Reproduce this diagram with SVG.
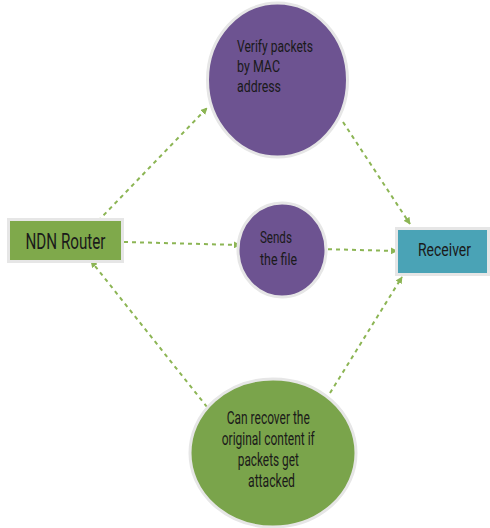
<svg xmlns="http://www.w3.org/2000/svg" width="490" height="528" viewBox="0 0 490 528">
<defs>
<marker id="arr" viewBox="0 0 10 10" refX="9" refY="5" markerWidth="7" markerHeight="7" orient="auto" markerUnits="userSpaceOnUse">
<path d="M0,0 L10,5 L0,10 z" fill="#8CB554"/>
</marker>
<style>
.edge{stroke:#8CB554;stroke-width:2;stroke-dasharray:4 4;fill:none;marker-end:url(#arr)}
.t{font-family:Roboto,"Liberation Sans",sans-serif;fill:#1a1a1a}
.ring{stroke:#E6E6E6;stroke-width:3}
</style>
</defs>
<rect width="490" height="528" fill="#ffffff"/>
<g id="connectors">
<line class="edge" x1="98" y1="221" x2="207" y2="108"/>
<line class="edge" x1="343" y1="122" x2="410" y2="224"/>
<line class="edge" x1="124" y1="242" x2="240" y2="245"/>
<line class="edge" x1="320" y1="249" x2="397" y2="251"/>
<line class="edge" x1="207" y1="407" x2="91" y2="261"/>
<line class="edge" x1="330" y1="393" x2="402" y2="277"/>
</g>
<g id="ndn-router">
<rect class="ring" x="8.5" y="219.5" width="114" height="42" fill="#7FA94B"/>
<text class="t" x="65.5" y="249" font-size="22" text-anchor="middle" textLength="80" lengthAdjust="spacingAndGlyphs">NDN Router</text>
</g>
<g id="receiver">
<rect class="ring" x="396.5" y="228.5" width="92" height="46" fill="#4AA3B6"/>
<text class="t" x="444.5" y="256" font-size="18" text-anchor="middle" textLength="53" lengthAdjust="spacingAndGlyphs">Receiver</text>
</g>
<g id="verify">
<ellipse class="ring" cx="277.5" cy="80" rx="70" ry="77" fill="#6D5391"/>
<text class="t" font-size="17">
<tspan x="237" y="52" textLength="76" lengthAdjust="spacingAndGlyphs">Verify packets</tspan>
<tspan x="237" y="72" textLength="43" lengthAdjust="spacingAndGlyphs">by MAC</tspan>
<tspan x="237" y="92" textLength="44" lengthAdjust="spacingAndGlyphs">address</tspan>
</text>
</g>
<g id="sends">
<ellipse class="ring" cx="282" cy="250" rx="44" ry="47" fill="#6D5391"/>
<text class="t" font-size="17" text-anchor="middle">
<tspan x="278" y="243" textLength="32" lengthAdjust="spacingAndGlyphs">Sends</tspan>
<tspan x="278.5" y="265" textLength="37" lengthAdjust="spacingAndGlyphs">the file</tspan>
</text>
</g>
<g id="recover">
<ellipse class="ring" cx="273" cy="453" rx="83" ry="74" fill="#7AA44B"/>
<text class="t" font-size="18" text-anchor="middle">
<tspan x="270.5" y="424" textLength="83" lengthAdjust="spacingAndGlyphs">Can recover the</tspan>
<tspan x="270.5" y="445" textLength="93" lengthAdjust="spacingAndGlyphs">original content if</tspan>
<tspan x="270.5" y="466" textLength="61" lengthAdjust="spacingAndGlyphs">packets get</tspan>
<tspan x="271.5" y="487" textLength="47" lengthAdjust="spacingAndGlyphs">attacked</tspan>
</text>
</g>
</svg>
